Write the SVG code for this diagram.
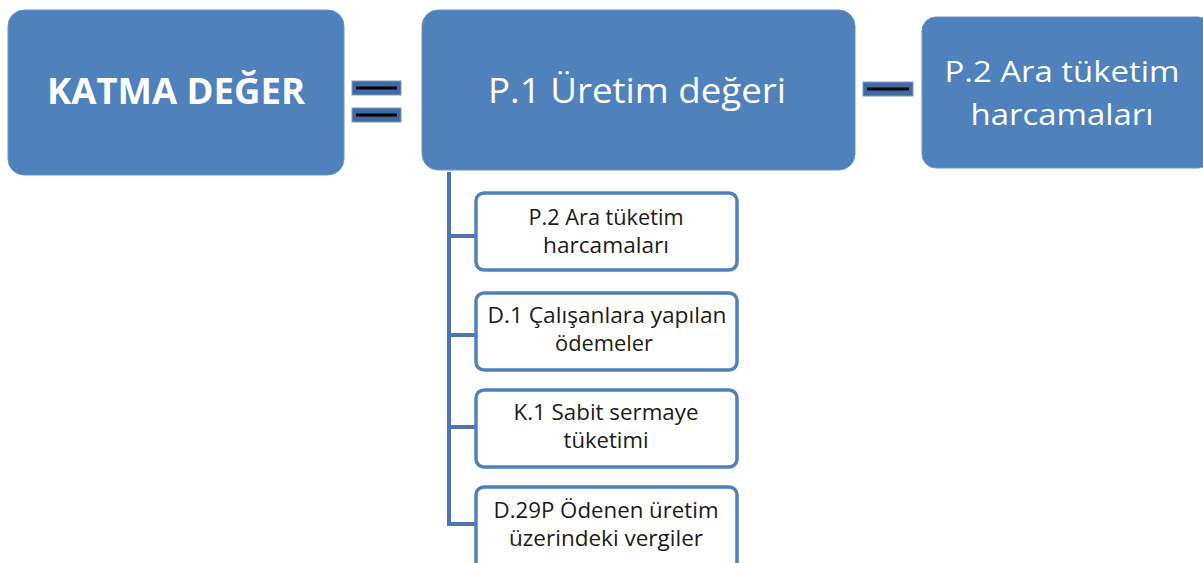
<svg xmlns="http://www.w3.org/2000/svg" width="1203" height="563" viewBox="0 0 1203 563">
<style>
.main{fill:#4F81BD;stroke:#6a93c8;stroke-width:1}
.child{fill:#ffffff;stroke:#4F81BD;stroke-width:3.5}
.wt{fill:#ffffff;font-family:"Open Sans","Liberation Sans",sans-serif;text-anchor:middle}
.ct{fill:#1e1a16;font-family:"Open Sans","Liberation Sans",sans-serif;font-size:21px;text-anchor:middle}
.op{fill:#3f6aa3;stroke:#7a9bc6;stroke-width:1}
.conn{fill:none;stroke:#4a77b1;stroke-width:4}
</style>
<rect width="1203" height="563" fill="#ffffff"/>
<g id="katma">
<rect class="main" x="8" y="10" width="336" height="165" rx="16"/>
<text class="wt" x="176" y="104" font-size="35" font-weight="bold" textLength="258" lengthAdjust="spacingAndGlyphs">KATMA DEĞER</text>
</g>
<g id="equals">
<rect class="op" x="352" y="81" width="49" height="14"/>
<line x1="356" y1="88" x2="397" y2="88" stroke="#000" stroke-width="3"/>
<rect class="op" x="352" y="108" width="49" height="14"/>
<line x1="356" y1="115" x2="397" y2="115" stroke="#000" stroke-width="3"/>
</g>
<g id="uretim">
<rect class="main" x="422" y="10" width="433" height="160" rx="16"/>
<text class="wt" x="637" y="103" font-size="35" textLength="298" lengthAdjust="spacingAndGlyphs">P.1 Üretim değeri</text>
</g>
<g id="minus">
<rect class="op" x="863" y="82" width="50" height="14"/>
<line x1="867" y1="89" x2="909" y2="89" stroke="#000" stroke-width="3"/>
</g>
<g id="ara">
<rect class="main" x="922" y="17" width="290" height="151" rx="14"/>
<text class="wt" x="1062" y="82" font-size="30" textLength="235" lengthAdjust="spacingAndGlyphs">P.2 Ara tüketim</text>
<text class="wt" x="1062" y="125" font-size="30" textLength="183" lengthAdjust="spacingAndGlyphs">harcamaları</text>
</g>
<g id="connectors">
<path class="conn" d="M449 172 V524 H476"/>
<line class="conn" x1="447" y1="236" x2="476" y2="236"/>
<line class="conn" x1="447" y1="335" x2="476" y2="335"/>
<line class="conn" x1="447" y1="427" x2="476" y2="427"/>
</g>
<g id="c1">
<rect class="child" x="476" y="193" width="261" height="77" rx="8"/>
<text class="ct" x="606" y="225" textLength="155" lengthAdjust="spacingAndGlyphs">P.2 Ara tüketim</text>
<text class="ct" x="606" y="253" textLength="126" lengthAdjust="spacingAndGlyphs">harcamaları</text>
</g>
<g id="c2">
<rect class="child" x="476" y="293" width="261" height="77" rx="8"/>
<text class="ct" x="607" y="323" textLength="239" lengthAdjust="spacingAndGlyphs">D.1 Çalışanlara yapılan</text>
<text class="ct" x="604" y="351" textLength="98" lengthAdjust="spacingAndGlyphs">ödemeler</text>
</g>
<g id="c3">
<rect class="child" x="476" y="390" width="261" height="77" rx="8"/>
<text class="ct" x="606" y="420" textLength="185" lengthAdjust="spacingAndGlyphs">K.1 Sabit sermaye</text>
<text class="ct" x="606" y="448" textLength="85" lengthAdjust="spacingAndGlyphs">tüketimi</text>
</g>
<g id="c4">
<rect class="child" x="476" y="487" width="261" height="85" rx="8"/>
<text class="ct" x="606" y="518" textLength="225" lengthAdjust="spacingAndGlyphs">D.29P Ödenen üretim</text>
<text class="ct" x="606" y="546" textLength="194" lengthAdjust="spacingAndGlyphs">üzerindeki vergiler</text>
</g>
</svg>
